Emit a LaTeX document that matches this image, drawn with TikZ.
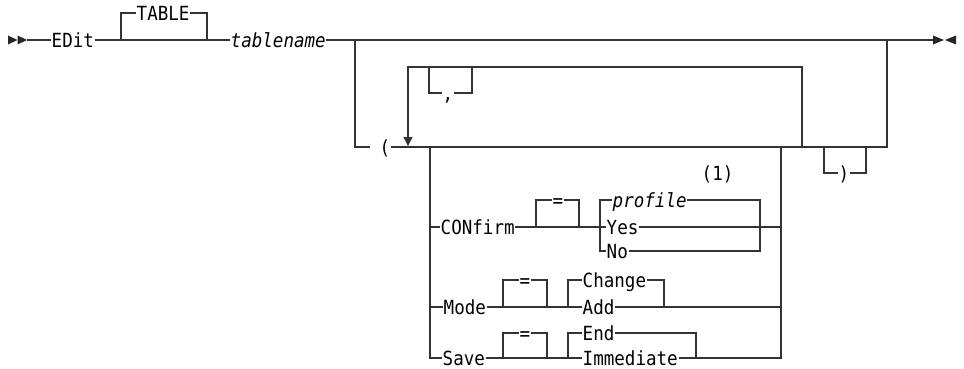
\documentclass[tikz,border=0pt]{standalone}
\usepackage{fontspec}
\usepackage{tikz}
\usetikzlibrary{positioning, calc, arrows.meta}
\newfontfamily\railfont{DejaVu Sans Mono}[FakeStretch=0.9]

\begin{document}
\begin{tikzpicture}[
    x=1pt, y=-1pt,
    font=\railfont\fontsize{19.5}{22}\selectfont,
    rail/.style={line width=1.4pt, black!80},
    lbl/.style={anchor=west, inner xsep=0.5pt, inner ysep=0pt,
                text height=14.2pt, text depth=0pt},
    var/.style={lbl, font=\railfont\fontsize{19.5}{22}\selectfont\itshape},
    tip/.style={fill=black!85}
]
\useasboundingbox (0,0) rectangle (964,369);

% Main line
\coordinate (start) at (27,40);
\coordinate (tblL) at (121,40);
\coordinate (tblR) at (207,40);
\coordinate (brL) at (355,40);
\coordinate (brR) at (887,40);
\coordinate (stop) at (933,40);
\node[lbl] (edit) at (51,40) {EDit};
\node[lbl] (table) at (136,13) {TABLE};
\node[var] (tname) at (230,40) {tablename};

\fill[tip] (8,35.5) -- (17.5,40) -- (8,44.5) -- cycle;
\fill[tip] (17.5,35.5) -- (27,40) -- (17.5,44.5) -- cycle;
\fill[tip] (933,35.5) -- (944,40) -- (933,44.5) -- cycle;
\fill[tip] (956,35.5) -- (945,40) -- (956,44.5) -- cycle;

\draw[rail] (start) -- (edit.west);
\draw[rail] (edit.east) -- (tname.west);
\draw[rail] (tblL) |- (table.west);
\draw[rail] (table.east) -| (tblR);
\draw[rail] (tname.east) -- (stop);

% Option list in brackets
\coordinate (lpL) at (370,147);
\node[lbl] (lparen) at (379,147) {(};
\draw[rail] (brL) |- (lpL);
\draw[rail] (lparen.east) -| (brR);

% Repeat loop with comma
\coordinate (rpL) at (408,147);
\coordinate (rpR) at (802,147);
\coordinate (rpTL) at (408,67);
\coordinate (rpTR) at (802,67);
\coordinate (cmL) at (429,67);
\coordinate (cmR) at (472,67);
\node[lbl] (comma) at (442,93) {,};
\draw[rail, -{Triangle[length=9pt, width=9pt]}, shorten >=1pt]
    (rpR) -- (rpTR) -- (rpTL) -- (rpL);
\draw[rail] (cmL) |- (comma.west);
\draw[rail] (comma.east) -| (cmR);

% Closing bracket
\coordinate (rpbL) at (824,147);
\coordinate (rpbR) at (866,147);
\node[lbl] (rparen) at (838,173) {)};
\draw[rail] (rpbL) |- (rparen.west);
\draw[rail] (rparen.east) -| (rpbR);

% Options
\coordinate (opL) at (430,147);
\coordinate (opR) at (781,147);

% CONfirm row
\coordinate (ceqL) at (536,227);
\coordinate (ceqR) at (579,227);
\coordinate (cchL) at (600,227);
\coordinate (cchR) at (760,227);
\node[lbl] (confirm) at (440,227) {CONfirm};
\node[lbl] (ceq) at (552,200) {=};
\node[var] (profile) at (612,200) {profile};
\node[lbl] (yes) at (606,227) {Yes};
\node[lbl] (no) at (606,251) {No};
\node[lbl] (note) at (701,173) {(1)};
\draw[rail] (confirm.west -| opL) -- (confirm.west);
\draw[rail] (confirm.east) -- (yes.west);
\draw[rail] (ceqL) |- (ceq.west);
\draw[rail] (ceq.east) -| (ceqR);
\draw[rail] (no.west) -| (profile.west -| cchL) -- (profile.west);
\draw[rail] (profile.east) -| (cchR |- no.east) -- (no.east);
\draw[rail] (yes.east) -- (yes.east -| opR);

% Mode row
\coordinate (meqL) at (503,307);
\coordinate (meqR) at (547,307);
\coordinate (mchL) at (568,307);
\coordinate (mchR) at (664,307);
\node[lbl] (mode) at (443,307) {Mode};
\node[lbl] (meq) at (519,280) {=};
\node[lbl] (change) at (582,280) {Change};
\node[lbl] (add) at (582,307) {Add};
\draw[rail] (mode.west -| opL) -- (mode.west);
\draw[rail] (mode.east) -- (add.west);
\draw[rail] (meqL) |- (meq.west);
\draw[rail] (meq.east) -| (meqR);
\draw[rail] (mchL) |- (change.west);
\draw[rail] (change.east) -| (mchR);
\draw[rail] (add.east) -- (add.east -| opR);

% Save row
\coordinate (seqL) at (503,358);
\coordinate (seqR) at (547,358);
\coordinate (schL) at (568,358);
\coordinate (schR) at (696,358);
\node[lbl] (save) at (442,358) {Save};
\node[lbl] (seq) at (519,333) {=};
\node[lbl] (end) at (582,333) {End};
\node[lbl] (immed) at (582,358) {Immediate};
\draw[rail] (opL) |- (save.west);
\draw[rail] (save.east) -- (immed.west);
\draw[rail] (seqL) |- (seq.west);
\draw[rail] (seq.east) -| (seqR);
\draw[rail] (schL) |- (end.west);
\draw[rail] (end.east) -| (schR);
\draw[rail] (immed.east) -| (opR);

\end{tikzpicture}
\end{document}
